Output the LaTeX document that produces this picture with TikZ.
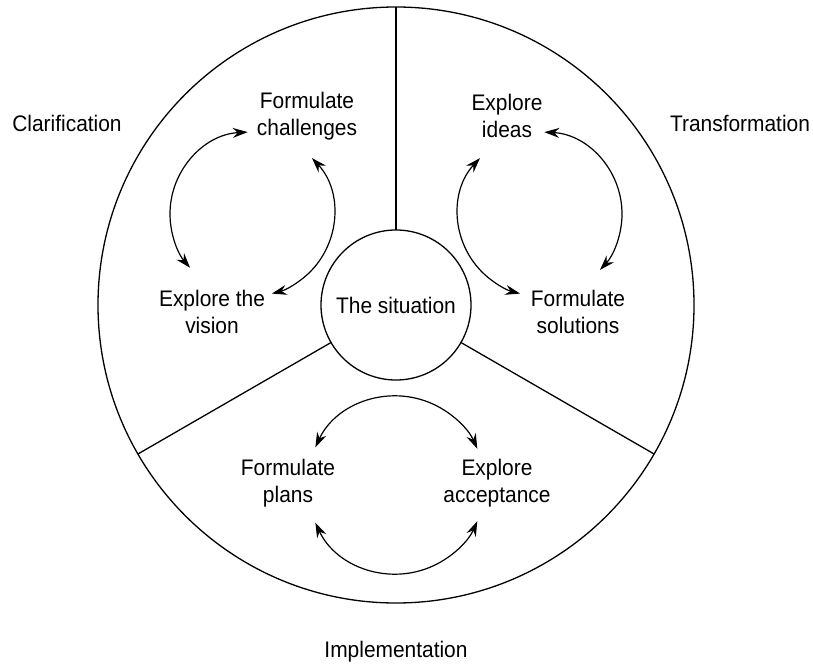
\documentclass[tikz,border=0pt]{standalone}
\usepackage{fontspec}
\setmainfont[FakeStretch=0.93]{Liberation Sans}
\usetikzlibrary{arrows.meta,calc}
\begin{document}
\begin{tikzpicture}[x=1pt,y=1pt,
  lbl/.style={align=center,font=\fontsize{22.5}{27}\selectfont,inner sep=0pt},
  ring/.style={draw,circle,line width=1.3pt,inner sep=0pt,outer sep=0pt},
  seg/.style={line width=1.3pt},
  cyc/.style={line width=1.2pt,{Stealth[length=15pt,width=10pt,inset=5pt]}-{Stealth[length=15pt,width=10pt,inset=5pt]}}]
\useasboundingbox (0,0) rectangle (813,665);
\coordinate (O) at (396,360);
\node[ring,minimum size=596pt] (outer) at (O) {};
\node[ring,minimum size=150pt,lbl] (sit) at (O) {The situation};
\draw[seg] (sit.90) -- (outer.90);
\draw[seg] (sit.210) -- (outer.210);
\draw[seg] (sit.330) -- (outer.330);
% cycle centres
\coordinate (C1) at (252,451);
\coordinate (C2) at (540,451);
\coordinate (C3) at (396,180);
% clarification
\draw[cyc] ($(C1)+(93:82)$) arc[start angle=93,end angle=221,radius=82];
\draw[cyc] ($(C1)+(43:82)$) arc[start angle=43,end angle=-76,radius=82];
% transformation
\draw[cyc] ($(C2)+(137:82)$) arc[start angle=137,end angle=256,radius=82];
\draw[cyc] ($(C2)+(87:82)$) arc[start angle=87,end angle=-43,radius=82];
% implementation
\draw[cyc] ($(C3)+(155:89)$) arc[start angle=155,end angle=24,radius=89];
\draw[cyc] ($(C3)+(205:89)$) arc[start angle=205,end angle=336,radius=89];
% labels
\node[lbl] (fc) at (307,549) {Formulate\\challenges};
\node[lbl] (ev) at (212,353) {Explore the\\vision};
\node[lbl] (ei) at (507,549) {Explore\\ideas};
\node[lbl] (fs) at (578,353) {Formulate\\solutions};
\node[lbl] (fp) at (288,182) {Formulate\\plans};
\node[lbl] (ea) at (497,182) {Explore\\acceptance};
\node[lbl] (cl) at (67,542) {Clarification};
\node[lbl] (tr) at (740,542) {Transformation};
\node[lbl] (im) at (396,13) {Implementation};
\end{tikzpicture}
\end{document}
